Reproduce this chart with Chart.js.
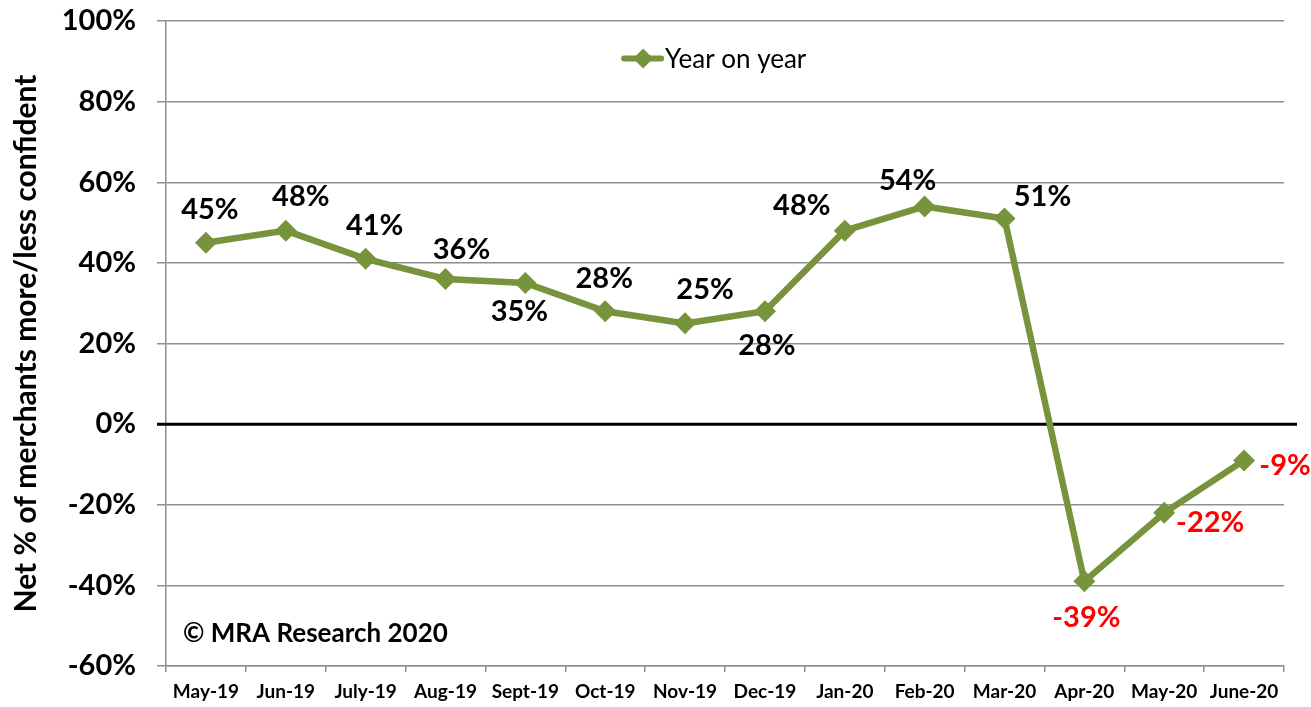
<!DOCTYPE html>
<html>
<head>
<meta charset="utf-8">
<script src="https://cdn.jsdelivr.net/npm/chart.js@4.4.1/dist/chart.umd.min.js"></script>
<style>
  html, body { margin: 0; padding: 0; background: #fff; }
  #wrap { width: 1311px; height: 707px; position: relative; }
</style>
</head>
<body>
<div id="wrap"><canvas id="chart" width="1311" height="707"></canvas></div>
<script>
// Monthly merchant confidence, net % more/less confident (year on year)
const months = ['May-19', 'Jun-19', 'July-19', 'Aug-19', 'Sept-19', 'Oct-19', 'Nov-19',
                'Dec-19', 'Jan-20', 'Feb-20', 'Mar-20', 'Apr-20', 'May-20', 'June-20'];
const yearOnYear = [45, 48, 41, 36, 35, 28, 25, 28, 48, 54, 51, -39, -22, -9];
const yTicks = [100, 80, 60, 40, 20, 0, -20, -40, -60];

// Where each value label sits relative to its point (text centre offset, px)
const labelPlacement = [
  [4, -33], [15, -34], [9, -33], [16, -29], [-6, 29], [-1, -33], [20, -34],
  [2, 34], [-43, -25], [-17, -26], [38, -22], [2, 36], [46, 10], [41, 5]
];

const GREEN = '#77933C';
const GRID = '#8f8f8f';
const FONT = 'Lato, "Open Sans", sans-serif';

// Value labels, zero line, legend and copyright note
const overlayPlugin = {
  id: 'overlay',
  afterDatasetsDraw(chart) {
    const ctx = chart.ctx;
    const x = chart.scales.x, y = chart.scales.y;
    const area = chart.chartArea;
    ctx.save();

    // value labels
    ctx.font = 'bold 29px ' + FONT;
    ctx.textAlign = 'center';
    ctx.textBaseline = 'middle';
    const meta = chart.getDatasetMeta(0);
    meta.data.forEach((pt, i) => {
      const v = yearOnYear[i];
      const [dx, dy] = labelPlacement[i];
      ctx.fillStyle = v < 0 ? '#FF0000' : '#000000';
      ctx.fillText(v + '%', pt.x + dx, pt.y + dy);
    });

    // legend
    const ly = y.getPixelForValue(90.7);
    const lx = x.getPixelForValue(5.7);
    ctx.strokeStyle = GREEN;
    ctx.lineWidth = 6;
    ctx.lineCap = 'round';
    ctx.beginPath();
    ctx.moveTo(lx - 37, ly);
    ctx.lineTo(lx, ly);
    ctx.stroke();
    ctx.fillStyle = GREEN;
    ctx.beginPath();
    ctx.moveTo(lx - 18, ly - 10);
    ctx.lineTo(lx - 8, ly);
    ctx.lineTo(lx - 18, ly + 10);
    ctx.lineTo(lx - 28, ly);
    ctx.closePath();
    ctx.fill();
    ctx.fillStyle = '#000';
    ctx.font = '26px ' + FONT;
    ctx.textAlign = 'left';
    ctx.fillText(chart.data.datasets[0].label, lx + 4, ly + 1);

    // copyright note
    ctx.font = 'bold 26px ' + FONT;
    ctx.fillText('\u00A9 MRA Research 2020', area.left + 17, y.getPixelForValue(-52));
    ctx.restore();
  },
  beforeDatasetsDraw(chart) {
    const ctx = chart.ctx;
    const y = chart.scales.y;
    const area = chart.chartArea;
    const y0 = y.getPixelForValue(0);
    ctx.save();
    ctx.strokeStyle = '#000';
    ctx.lineWidth = 3;
    ctx.beginPath();
    ctx.moveTo(area.left - 9, y0);
    ctx.lineTo(area.right + 13, y0);
    ctx.stroke();
    ctx.restore();
  }
};

new Chart(document.getElementById('chart'), {
  type: 'line',
  data: {
    labels: months,
    datasets: [{
      label: 'Year on year',
      data: yearOnYear,
      borderColor: GREEN,
      backgroundColor: GREEN,
      borderWidth: 6.5,
      tension: 0,
      pointStyle: 'rectRot',
      pointRadius: 11,
      pointHoverRadius: 11,
      pointBorderWidth: 0,
      pointBackgroundColor: GREEN,
      clip: false
    }]
  },
  options: {
    responsive: false,
    animation: false,
    devicePixelRatio: 1,
    layout: { padding: { top: 21, right: 27, left: 8, bottom: 0 } },
    plugins: { legend: { display: false }, tooltip: { enabled: false } },
    scales: {
      x: {
        offset: true,
        grid: { display: true, offset: true, drawOnChartArea: false, drawTicks: true,
                tickLength: 6, color: GRID, lineWidth: 1.5 },
        border: { display: true, color: GRID, width: 1.5 },
        ticks: { color: '#000', font: { family: FONT, weight: 'bold', size: 19 },
                 padding: 8, maxRotation: 0, autoSkip: false },
        afterFit(scale) {
          scale.height = 707 - 666;
          scale.paddingLeft = 0; scale.paddingRight = 0;
        }
      },
      y: {
        min: -60, max: 100,
        afterBuildTicks(scale) { scale.ticks = yTicks.map(v => ({ value: v })); },
        grid: {
          color: ctx => ctx.tick && ctx.tick.value === 0 ? 'rgba(0,0,0,0)' : GRID,
          lineWidth: 1.5, tickLength: 9, drawTicks: true
        },
        border: { display: true, color: GRID, width: 1.5 },
        ticks: {
          color: '#000', padding: 21,
          font: { family: FONT, weight: 'bold', size: 29 },
          callback: v => v + '%'
        },
        title: {
          display: true, text: 'Net % of merchants more/less confident',
          color: '#000', font: { family: FONT, weight: 'bold', size: 30 },
          padding: { top: 0, bottom: 0 }
        },
        afterFit(scale) {
          scale.width = 158;
          scale.paddingTop = 0; scale.paddingBottom = 0;
        }
      }
    }
  },
  plugins: [overlayPlugin]
});
</script>
</body>
</html>
